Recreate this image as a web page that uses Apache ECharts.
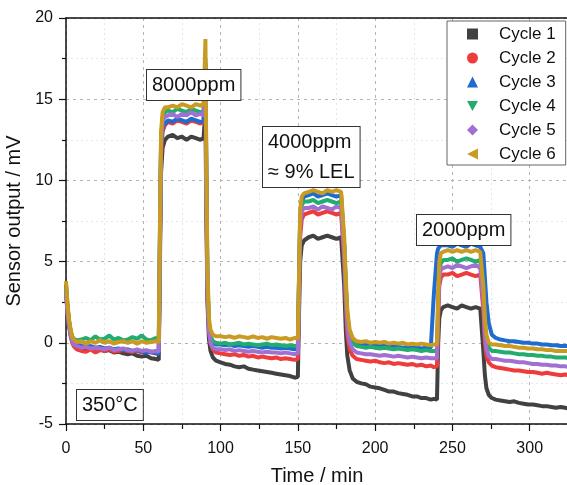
<!DOCTYPE html>
<html>
<head>
<meta charset="utf-8">
<script src="https://cdn.jsdelivr.net/npm/echarts@6/dist/echarts.min.js"></script>
<style>html,body{margin:0;padding:0;background:#fff}#c{width:567px;height:485px}</style>
</head>
<body>
<div id="c"></div>
<script>
// shared time axis (min)
const time = [0,1,2,3,4,5,7,10,13,16,19,22,25,28,31,34,37,40,43,46,49,52,55,58,60,
  60.8,61.5,62.5,64,
  66,69,72,75,78,81,84,87,89,
  89.6,90.2,90.8,91.5,92.5,93.5,95,97,
  100,103,106,109,112,115,118,121,124,127,130,133,136,139,142,145,148,150,
  150.8,151.5,152.5,154,
  157,160,163,166,169,172,175,178,179,
  180,181,182,183.5,185.5,
  188,191,194,197,200,203,206,209,212,215,218,221,224,227,230,233,236,238,240,
  240.8,241.5,242.5,244,
  247,250,253,256,259,262,265,268,269,
  270,271,272,273.5,275.5,
  278,281,284,287,290,293,296,299,302,305,308,311,314,317,320,323,325];

const cycle1 = [3.6,2.2,1.3,0.7,0.3,0.0,-0.2,-0.3,-0.35,-0.3,-0.45,-0.4,-0.5,-0.45,-0.6,-0.55,-0.65,-0.7,-0.65,-0.8,-0.85,-0.8,-0.95,-1.0,-1.05,
  5.0,10.5,12.0,12.5,
  12.7,12.8,12.6,12.7,12.5,12.7,12.6,12.5,12.6,
  13.5,14.0,8.0,2.5,0.2,-0.5,-0.9,-1.1,
  -1.2,-1.3,-1.35,-1.45,-1.5,-1.45,-1.6,-1.65,-1.7,-1.75,-1.8,-1.85,-1.9,-1.95,-2.0,-2.05,-2.15,-2.1,
  2.0,5.0,6.0,6.3,
  6.5,6.6,6.4,6.5,6.6,6.5,6.4,6.5,6.4,
  3.5,0.8,-0.8,-1.7,-2.2,
  -2.4,-2.5,-2.55,-2.7,-2.75,-2.8,-2.9,-3.0,-3.0,-3.1,-3.15,-3.2,-3.3,-3.3,-3.4,-3.4,-3.5,-3.45,-3.5,
  0.0,1.5,2.0,2.2,
  2.3,2.2,2.1,2.3,2.2,2.1,2.2,2.1,2.0,
  -0.5,-2.0,-2.8,-3.2,-3.4,
  -3.5,-3.55,-3.6,-3.65,-3.6,-3.7,-3.75,-3.8,-3.8,-3.85,-3.9,-3.9,-3.95,-4.0,-3.95,-4.0,-4.05];

const cycle2 = [3.0,1.8,1.0,0.4,0.0,-0.2,-0.4,-0.5,-0.55,-0.4,-0.6,-0.45,-0.5,-0.4,-0.55,-0.5,-0.45,-0.5,-0.55,-0.5,-0.6,-0.55,-0.6,-0.65,-0.6,
  6.0,11.5,13.0,13.4,
  13.6,13.5,13.7,13.6,13.5,13.7,13.6,13.5,13.6,
  14.5,16.5,9.0,3.0,0.8,0.0,-0.4,-0.6,
  -0.65,-0.7,-0.75,-0.7,-0.8,-0.75,-0.85,-0.8,-0.9,-0.85,-0.9,-0.95,-0.9,-1.0,-0.95,-1.0,-1.05,-1.0,
  3.0,6.5,7.6,7.9,
  8.0,8.1,7.9,8.0,8.1,8.0,7.9,8.0,7.9,
  5.0,2.5,0.5,-0.4,-0.8,
  -1.0,-1.05,-1.1,-1.15,-1.1,-1.2,-1.25,-1.2,-1.3,-1.25,-1.3,-1.35,-1.3,-1.4,-1.35,-1.45,-1.4,-1.5,-1.45,
  1.5,3.5,4.0,4.2,
  4.2,4.3,4.1,4.2,4.3,4.2,4.1,4.2,4.1,
  2.0,0.0,-0.8,-1.2,-1.4,
  -1.5,-1.55,-1.6,-1.65,-1.7,-1.7,-1.75,-1.8,-1.8,-1.85,-1.9,-1.85,-1.9,-1.95,-2.0,-1.95,-2.0];

const cycle3 = [3.2,2.0,1.1,0.5,0.2,0.0,-0.1,-0.2,-0.25,-0.2,-0.3,-0.25,-0.35,-0.3,-0.4,-0.35,-0.45,-0.4,-0.5,-0.45,-0.55,-0.6,-0.55,-0.65,-0.7,
  6.5,12.0,13.3,13.5,
  13.7,13.6,13.8,13.7,13.6,13.8,13.7,13.6,13.7,
  15.5,17.2,10.0,3.5,1.0,0.3,0.0,-0.1,
  -0.1,-0.15,-0.1,-0.2,-0.15,-0.2,-0.25,-0.2,-0.25,-0.3,-0.25,-0.3,-0.3,-0.35,-0.3,-0.35,-0.4,-0.35,
  4.0,7.5,8.7,9.0,
  9.1,9.2,9.0,9.1,9.2,9.1,9.0,9.1,9.0,
  6.0,3.5,1.5,0.5,0.1,
  -0.1,-0.15,-0.1,-0.2,-0.15,-0.2,-0.2,-0.25,-0.2,-0.25,-0.3,-0.25,-0.3,-0.3,-0.35,-0.3,-0.3,3.0,5.5,
  5.8,5.9,6.0,6.0,
  6.0,5.9,6.1,6.0,5.9,6.1,6.0,5.9,6.0,
  5.5,4.0,2.5,1.2,0.5,
  0.3,0.2,0.15,0.1,0.1,0.05,0.0,0.0,-0.05,-0.05,-0.1,-0.1,-0.15,-0.15,-0.2,-0.2,-0.2];

const cycle4 = [3.3,2.1,1.3,0.7,0.4,0.25,0.15,0.2,0.3,0.15,0.4,0.2,0.25,0.45,0.2,0.3,0.15,0.2,0.35,0.25,0.45,0.2,0.15,0.3,0.2,
  7.0,12.5,13.9,14.2,
  14.3,14.2,14.4,14.3,14.2,14.4,14.3,14.2,14.3,
  15.8,17.5,10.5,4.0,1.2,0.4,0.1,0.0,
  -0.05,0.0,-0.1,-0.05,0.0,-0.1,-0.05,-0.1,-0.15,-0.1,-0.05,-0.15,-0.1,-0.15,-0.2,-0.15,-0.2,-0.15,
  4.2,7.8,8.5,8.7,
  8.7,8.8,8.6,8.7,8.8,8.7,8.6,8.7,8.6,
  6.0,3.6,1.6,0.5,0.0,
  -0.2,-0.25,-0.3,-0.25,-0.3,-0.35,-0.3,-0.35,-0.4,-0.35,-0.4,-0.45,-0.4,-0.45,-0.5,-0.45,-0.5,-0.5,-0.5,
  2.5,4.3,4.9,5.1,
  5.1,5.2,5.0,5.1,5.2,5.1,5.0,5.1,5.0,
  3.0,1.2,0.2,-0.3,-0.5,
  -0.5,-0.55,-0.6,-0.6,-0.65,-0.7,-0.7,-0.75,-0.75,-0.8,-0.8,-0.85,-0.85,-0.9,-0.9,-0.9,-0.95];

const cycle5 = [3.1,1.9,1.1,0.5,0.1,-0.1,-0.2,-0.3,-0.25,-0.35,-0.3,-0.35,-0.4,-0.3,-0.45,-0.4,-0.35,-0.45,-0.5,-0.4,-0.5,-0.45,-0.55,-0.5,-0.55,
  6.8,12.3,13.7,13.9,
  14.0,14.1,13.9,14.1,14.0,14.2,14.0,14.1,14.0,
  15.2,17.0,10.0,3.5,0.8,0.0,-0.3,-0.4,
  -0.4,-0.45,-0.4,-0.5,-0.45,-0.5,-0.55,-0.5,-0.55,-0.6,-0.55,-0.6,-0.6,-0.65,-0.6,-0.65,-0.7,-0.65,
  3.8,7.2,8.1,8.3,
  8.3,8.4,8.2,8.4,8.3,8.2,8.4,8.3,8.2,
  5.5,3.0,1.0,0.0,-0.4,
  -0.6,-0.65,-0.7,-0.7,-0.75,-0.8,-0.75,-0.8,-0.85,-0.8,-0.85,-0.9,-0.85,-0.9,-0.95,-0.9,-0.95,-0.95,-0.95,
  2.0,4.0,4.5,4.6,
  4.7,4.6,4.8,4.7,4.6,4.7,4.8,4.6,4.6,
  2.5,0.5,-0.4,-0.8,-1.0,
  -1.0,-1.05,-1.1,-1.1,-1.15,-1.2,-1.2,-1.25,-1.3,-1.3,-1.35,-1.35,-1.4,-1.4,-1.45,-1.45,-1.5];

const cycle6 = [3.8,2.4,1.4,0.8,0.4,0.2,0.05,0.1,-0.05,0.1,0.0,0.15,0.0,0.1,-0.05,0.05,0.1,0.0,0.1,-0.05,0.1,0.0,0.05,0.1,0.05,
  7.5,13.0,14.2,14.5,
  14.5,14.6,14.5,14.7,14.6,14.5,14.7,14.6,14.7,
  16.5,18.7,11.0,4.5,1.5,0.8,0.5,0.4,
  0.4,0.35,0.4,0.3,0.4,0.35,0.3,0.4,0.3,0.35,0.25,0.35,0.3,0.25,0.3,0.2,0.3,0.25,
  4.5,8.2,9.0,9.2,
  9.3,9.4,9.3,9.2,9.4,9.3,9.4,9.3,9.3,
  6.5,4.0,2.0,0.8,0.3,
  0.1,0.05,0.1,0.0,0.05,0.0,0.05,-0.05,0.0,-0.05,0.0,-0.1,-0.05,-0.1,-0.05,-0.1,-0.15,-0.1,-0.1,
  3.0,5.0,5.5,5.6,
  5.7,5.6,5.7,5.6,5.7,5.6,5.7,5.6,5.6,
  3.5,1.5,0.5,0.0,-0.1,
  -0.1,-0.15,-0.2,-0.2,-0.25,-0.3,-0.3,-0.35,-0.35,-0.4,-0.4,-0.45,-0.45,-0.5,-0.5,-0.5,-0.5];

const seriesNames = ['Cycle 1','Cycle 2','Cycle 3','Cycle 4','Cycle 5','Cycle 6'];
const seriesValues = [cycle1, cycle2, cycle3, cycle4, cycle5, cycle6];
const colors = ['#414141','#ee3b3b','#1f6bd0','#22ad6e','#a070d2','#c99b22'];
const icons = ['rect','circle','triangle','path://M0,0 L10,0 L5,9 Z','diamond','path://M10,0 L10,10 L0,5 Z'];
const xMin = 0, xMax = 350, xInterval = 50, yMin = -5, yMax = 20, yInterval = 5;
const annotations = ['8000ppm', '4000ppm\n≈ 9% LEL', '2000ppm', '350°C'];

const FONT = 'Liberation Sans, Arial, sans-serif';
const chart = echarts.init(document.getElementById('c'), null, {renderer: 'canvas'});

const boxStyle = (text, left, top) => ({
  type: 'text', left: left, top: top, z: 100,
  style: {
    text: text, font: '20px ' + FONT, fill: '#111', lineHeight: 30,
    backgroundColor: '#fff', borderColor: '#333', borderWidth: 1, padding: [0, 5, 0, 5]
  }
});

const option = {
  animation: false,
  backgroundColor: '#fff',
  color: colors,
  grid: {left: 66, width: 541, top: 18, bottom: 61, containLabel: false, outerBoundsMode: 'none'},
  legend: {
    orient: 'vertical', left: 447, top: 21,
    data: seriesNames.map((n, i) => ({name: n, icon: icons[i]})),
    itemWidth: 11, itemHeight: 11, itemGap: 6,
    padding: [4, 10, 2, 20],
    backgroundColor: '#fff', borderColor: '#666', borderWidth: 1, borderRadius: 0,
    textStyle: {fontFamily: FONT, fontSize: 17, color: '#111', lineHeight: 18, padding: [0, 0, 0, 16]},
    z: 50
  },
  xAxis: [{
    type: 'value', min: xMin, max: xMax, interval: xInterval,
    name: 'Time / min', nameLocation: 'middle', nameGap: 42,
    nameTextStyle: {fontFamily: FONT, fontSize: 20, color: '#111', padding: [0, 39, 0, 0]},
    axisLine: {show: true, onZero: false, lineStyle: {color: '#111', width: 1.5}},
    axisTick: {show: true, inside: false, length: 7, lineStyle: {color: '#111', width: 1.2}},
    minorTick: {show: true, splitNumber: 2, length: 5, lineStyle: {color: '#111', width: 1.2}},
    axisLabel: {fontFamily: FONT, fontSize: 16, color: '#111', margin: 17},
    splitLine: {show: true, lineStyle: {color: '#b4b4b4', width: 1, type: [3, 4]}},
    minorSplitLine: {show: true, lineStyle: {color: '#e6e6e6', width: 1, type: [2, 3]}}
  }, {
    type: 'value', position: 'top', min: xMin, max: xMax,
    axisLine: {show: true, onZero: false, lineStyle: {color: '#111', width: 1.5}},
    axisTick: {show: false}, axisLabel: {show: false}, splitLine: {show: false}
  }],
  yAxis: {
    type: 'value', min: yMin, max: yMax, interval: yInterval,
    name: 'Sensor output / mV', nameLocation: 'middle', nameGap: 26,
    nameTextStyle: {fontFamily: FONT, fontSize: 20, color: '#111'},
    axisLine: {show: true, onZero: false, lineStyle: {color: '#111', width: 1.5}},
    axisTick: {show: true, inside: false, length: 7, lineStyle: {color: '#111', width: 1.2}},
    minorTick: {show: true, splitNumber: 2, length: 4, lineStyle: {color: '#111', width: 1.2}},
    axisLabel: {fontFamily: FONT, fontSize: 16, color: '#111', margin: 13},
    splitLine: {show: true, lineStyle: {color: '#b4b4b4', width: 1, type: [3, 4]}},
    minorSplitLine: {show: true, lineStyle: {color: '#e6e6e6', width: 1, type: [2, 3]}}
  },
  series: seriesNames.map((n, i) => ({
    name: n, type: 'line', showSymbol: false, symbol: icons[i],
    data: time.map((t, k) => [t, seriesValues[i][k]]),
    lineStyle: {width: 4, color: colors[i]},
    itemStyle: {color: colors[i]},
    z: 2 + i
  })),
  graphic: [
    boxStyle(annotations[0], 146, 69),
    boxStyle(annotations[1], 262, 126),
    boxStyle(annotations[2], 416, 214),
    boxStyle(annotations[3], 76, 389)
  ]
};
chart.setOption(option);
</script>
</body>
</html>
